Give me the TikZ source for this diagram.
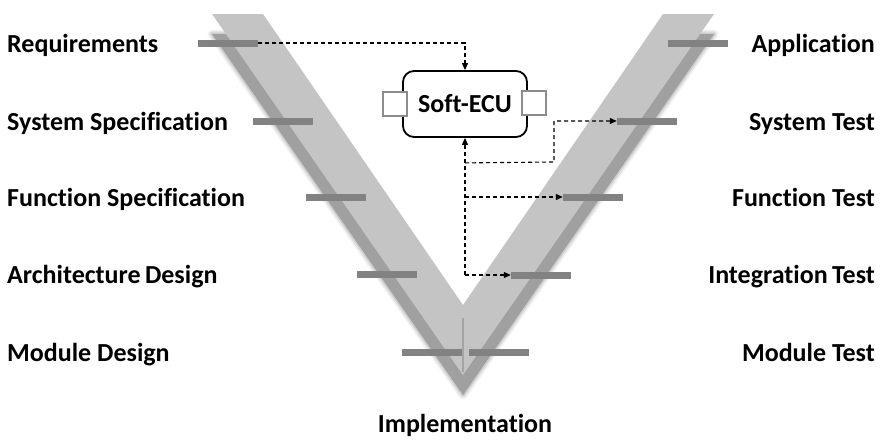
\documentclass[tikz,border=0pt]{standalone}
\usepackage{fontspec}
\setmainfont[Ligatures=CommonOff]{Carlito}
\usetikzlibrary{arrows.meta,calc}
\definecolor{vlight}{HTML}{C4C4C4}
\definecolor{vshadow}{HTML}{A0A0A0}
\definecolor{barcol}{HTML}{828282}
\definecolor{portcol}{HTML}{8C8C8C}
\tikzset{
  labelfont/.style={font=\bfseries\fontsize{26}{30}\selectfont},
  phasebar/.style={rectangle, fill=barcol, minimum width=60pt, minimum height=7pt, inner sep=0pt},
  leftlabel/.style={anchor=base west, inner sep=0pt, labelfont},
  rightlabel/.style={anchor=base east, inner sep=0pt, labelfont},
  ecubox/.style={draw=black, line width=1.8pt, rounded corners=11pt, fill=white,
    minimum width=124pt, minimum height=66pt, inner sep=0pt, labelfont},
  portbox/.style={draw=portcol, line width=1.4pt, fill=white, minimum size=24pt, inner sep=0pt},
  flow/.style={dash pattern=on 4pt off 3pt, line width=1.1pt,
    -{Triangle[length=7pt,width=6pt]}}
}
\begin{document}
\begin{tikzpicture}[x=1pt,y=-1pt]
\useasboundingbox (0,0) rectangle (883,439);

% soft shadow of the V, shifted downwards
\def\vshape#1{(212,14+#1) -- (263,14+#1) -- (463,305+#1) -- (663,14+#1) -- (714,14+#1) -- (463,375+#1) -- cycle}
\foreach \w/\o in {9/0.12,6/0.2,3/0.35}{
  \draw[vshadow, line width=\w pt, line join=round, draw opacity=\o] \vshape{20};
}
\fill[vshadow] \vshape{20};
% the V itself
\fill[vlight] \vshape{0};
% thin seam below the inner vertex
\draw[vshadow!90!black, line width=1.3pt, opacity=0.6] (463,318) -- (463,372);

% phase bars, left arm
\node[phasebar] (reqbar) at (228,43) {};
\node[phasebar] (sysbar) at (283,121) {};
\node[phasebar] (funbar) at (336,197) {};
\node[phasebar] (arcbar) at (387,274) {};
\node[phasebar] (modbar) at (432,352) {};
% phase bars, right arm
\node[phasebar] (appbar) at (698,43) {};
\node[phasebar] (stbar)  at (647,121) {};
\node[phasebar] (ftbar)  at (593,197) {};
\node[phasebar] (itbar)  at (541,275) {};
\node[phasebar] (mtbar)  at (499,352) {};

% phase labels
\node[leftlabel] (req) at (7,52.5) {Requirements};
\node[leftlabel] (sys) at (7,130.5) {System Specification};
\node[leftlabel] (fun) at (7,206.5) {Function Specification};
\node[leftlabel] (arc) at (7,283.5) {Architecture\,Design};
\node[leftlabel] (mod) at (7,361) {Module Design};
\node[rightlabel] (app) at (875,52.5) {Application};
\node[rightlabel] (st)  at (875,130.5) {System Test};
\node[rightlabel] (ft)  at (875,206.5) {Function Test};
\node[rightlabel] (it)  at (875,283.5) {Integration\,Test};
\node[rightlabel] (mt)  at (875,361) {Module Test};
\node[anchor=base, inner sep=0pt, labelfont] (impl) at (465,432.5) {Implementation};

% Soft-ECU with its two ports
\node[ecubox] (ecu) at (465,104) {Soft-ECU};
\node[portbox] (portl) at (395,104) {};
\node[portbox] (portr) at (534,103) {};

% requirements flow into the Soft-ECU
\draw[flow] (reqbar.east) -| (ecu.north);

% test flows back from the Soft-ECU
\coordinate (junit) at (ecu.south |- itbar.west);
\coordinate (jfun)  at (ecu.south |- ftbar.west);
\coordinate (jsys)  at ($(ecu.south)+(0,25)$);
\coordinate (jsysr) at (554,162);
\draw[flow] (junit) -- (ecu.south);
\draw[flow] (junit) -- (itbar.west);
\draw[flow] (jfun) -- (ftbar.west);
\draw[flow] (jsys) -- (jsysr) |- (stbar.west);
\end{tikzpicture}
\end{document}
